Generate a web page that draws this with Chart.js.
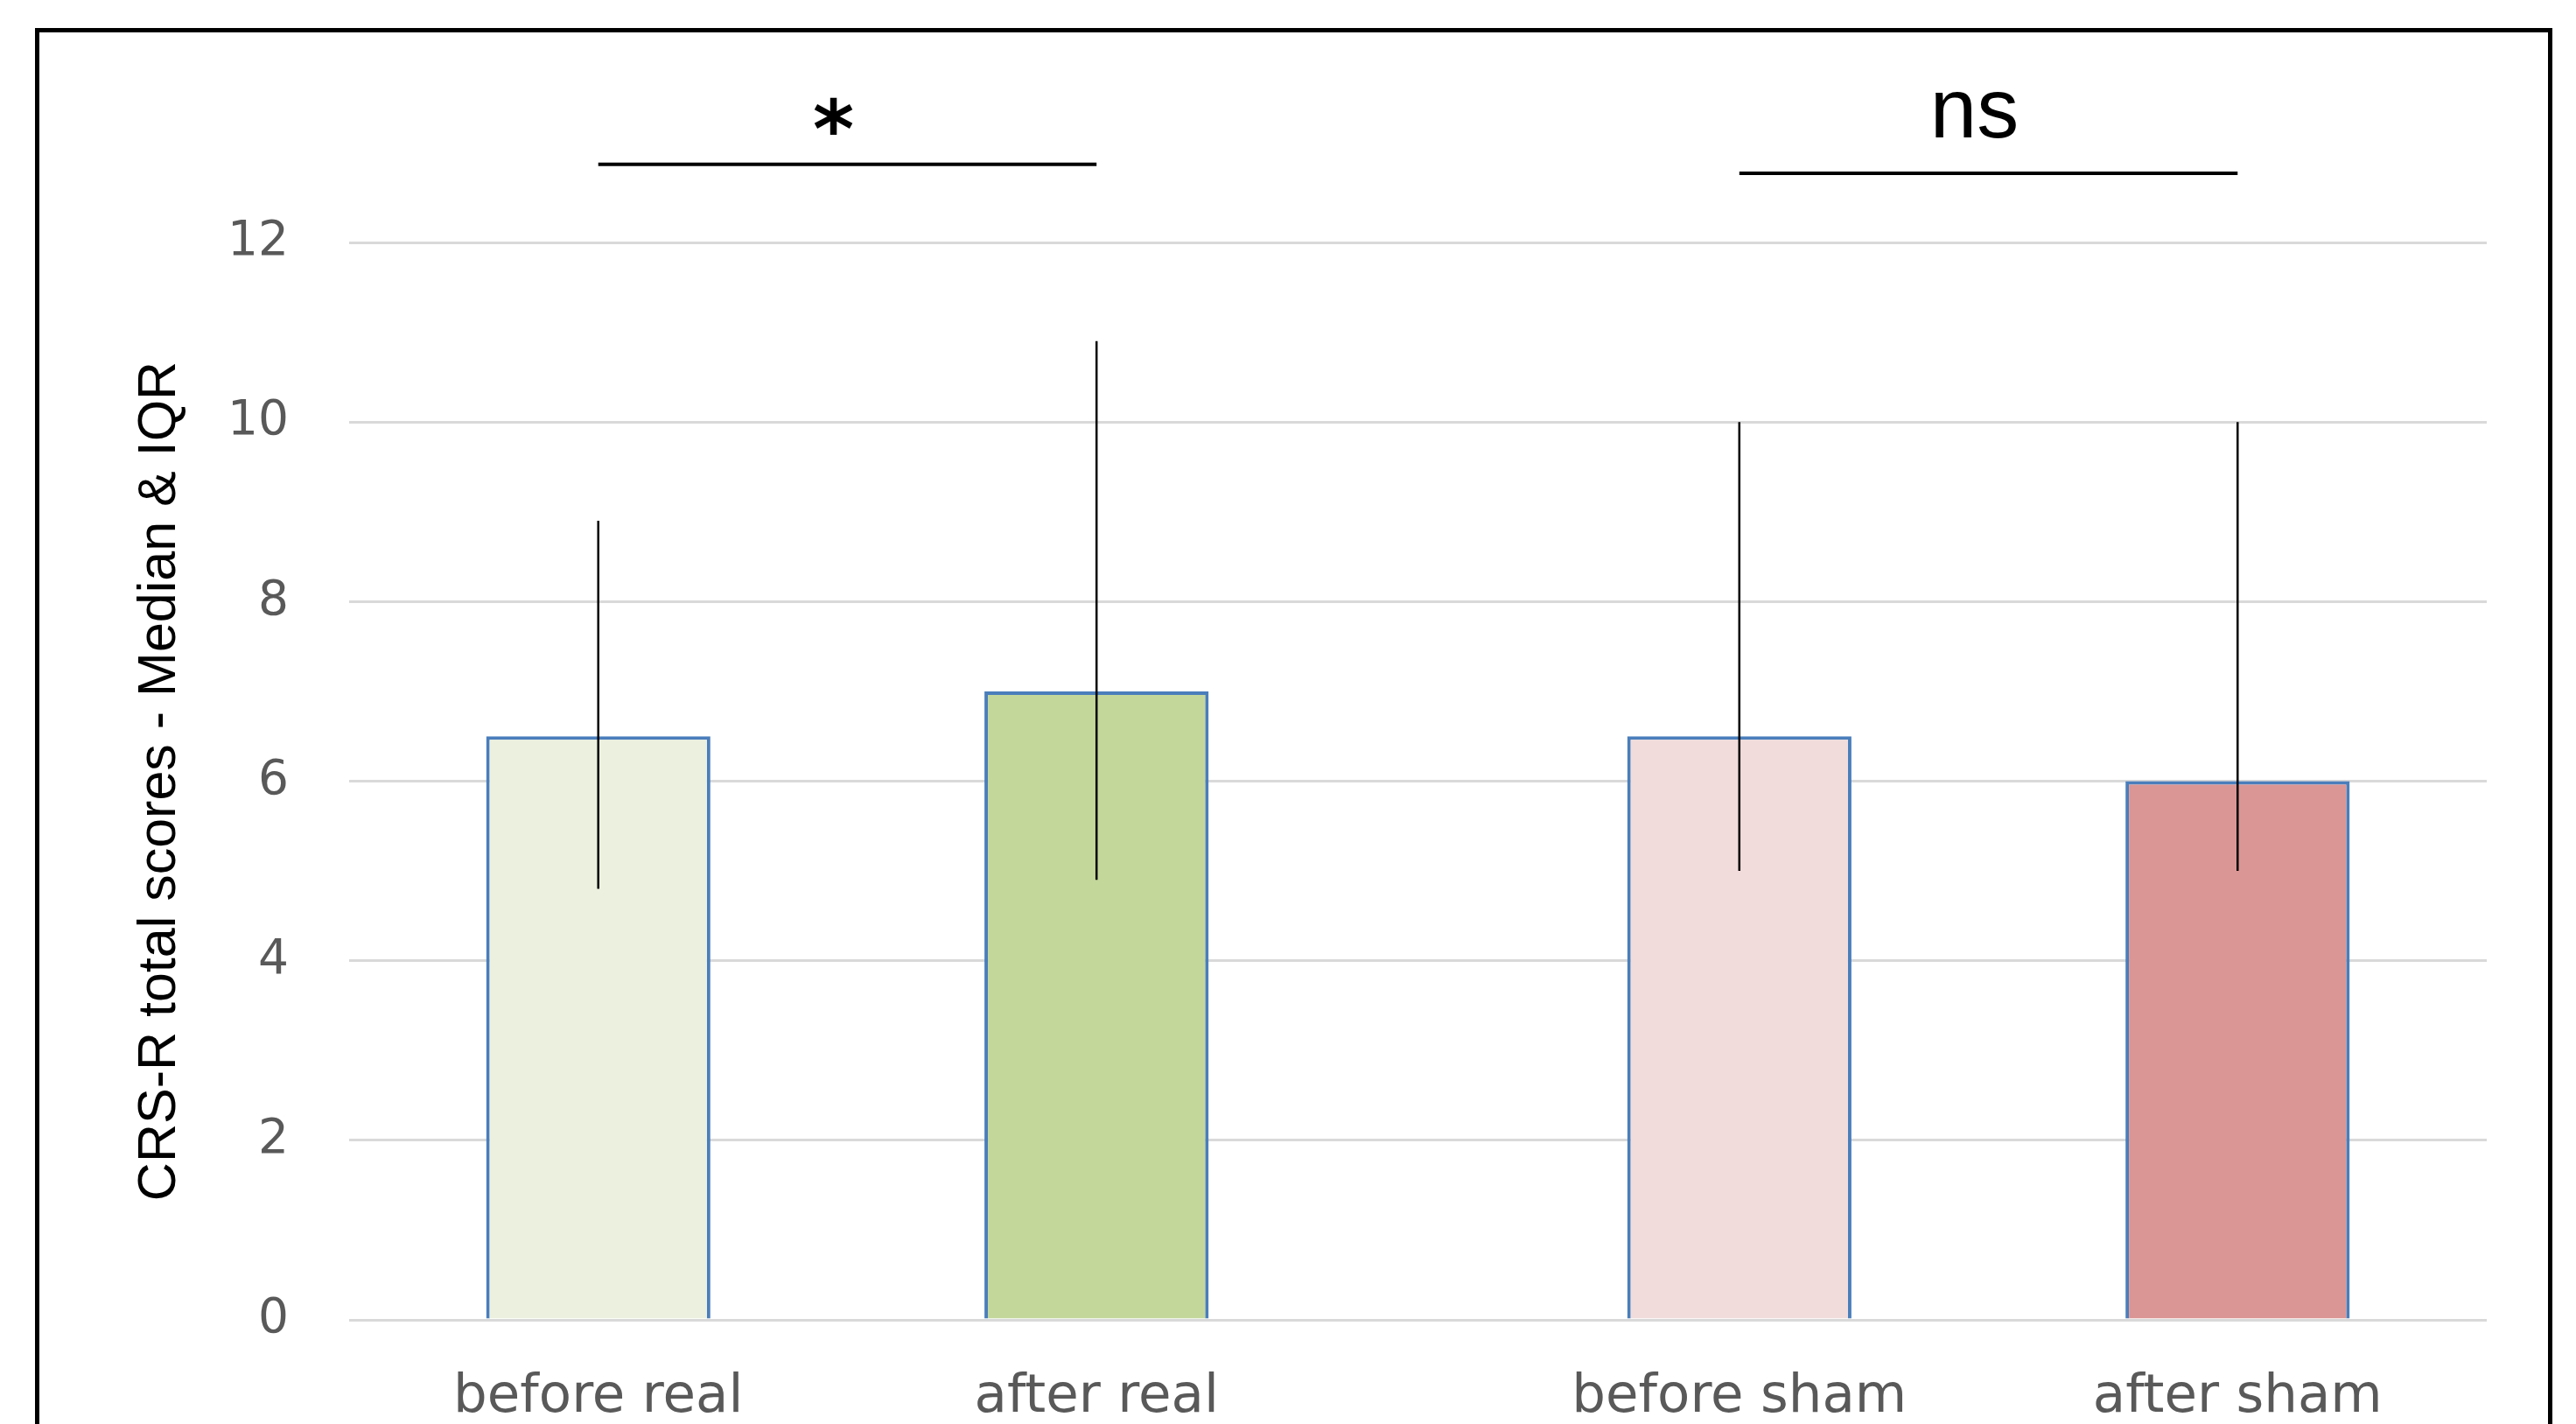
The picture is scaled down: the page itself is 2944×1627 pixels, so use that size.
<!DOCTYPE html>
<html>
<head>
<meta charset="utf-8">
<title>CRS-R total scores - Median & IQR</title>
<script src="https://cdn.jsdelivr.net/npm/chart.js@4.4.1/dist/chart.umd.min.js"></script>
<style>
  html, body { margin: 0; padding: 0; background: #fff; overflow: hidden; }
  #wrap   { position: relative; width: 2944px; height: 1627px; }
  #chart  { position: absolute; left: 0; top: 0; }
  #frame  { position: absolute; left: 40px; top: 32px; width: 2877px; height: 1700px;
            border: 5px solid #000; box-sizing: border-box; pointer-events: none; }
</style>
</head>
<body>
<div id="wrap">
  <canvas id="chart" width="2944" height="1627"></canvas>
  <div id="frame"></div>
</div>
<script>
/* ══════════════════════════════════════════════════════════════
   CRS-R total scores — median (bars) & IQR (whiskers)
══════════════════════════════════════════════════════════════ */

/* ── Datos ── */
var categories = ['before real', 'after real', 'before sham', 'after sham'];
var groups     = [0, 0, 1, 1];            /* 0 = real, 1 = sham */
var medians    = [6.5, 7, 6.5, 6];
var iqrLow     = [4.8, 4.9, 5, 5];
var iqrHigh    = [8.9, 10.9, 10, 10];
var yTicks     = [0, 2, 4, 6, 8, 10, 12];

/* Comparaciones (índices de barra) y su rótulo */
var sigLabels  = ['*', 'ns'];
var sigFrom    = [0, 2];
var sigTo      = [1, 3];
var sigLineAt  = [12.87, 12.77];          /* altura de la raya, unidades del eje y */
var sigTextAt  = [12.96, 13.17];          /* línea base del texto */

/* ── Estilo ── */
var barFills   = ['#EBF1DE', '#C4D79B', '#F2DCDB', '#DA9694'];
var GROUP_GAP  = 0.29;                    /* hueco extra entre grupos real / sham */

function slotOf(i) { return i + groups[i] * GROUP_GAP; }

var slots = categories.map(function(_, i) { return slotOf(i); });

/* ════════════════════════════════════════
   PLUGIN — barras de error (IQR)
════════════════════════════════════════ */
var errorBarsPlugin = {
  id: 'errorBars',
  afterDatasetsDraw: function(chart) {
    var meta = chart.getDatasetMeta(0);
    var y = chart.scales.y;
    var ctx = chart.ctx;
    ctx.save();
    ctx.strokeStyle = '#000';
    ctx.lineWidth = 2.5;
    meta.data.forEach(function(bar, i) {
      ctx.beginPath();
      ctx.moveTo(bar.x, y.getPixelForValue(iqrHigh[i]));
      ctx.lineTo(bar.x, y.getPixelForValue(iqrLow[i]));
      ctx.stroke();
    });
    ctx.restore();
  }
};

/* ════════════════════════════════════════
   PLUGIN — rayas de significación
════════════════════════════════════════ */
var sigFonts = ['bold 90px "DejaVu Sans"', '96px "Liberation Sans"'];

var significancePlugin = {
  id: 'significance',
  afterDraw: function(chart) {
    var meta = chart.getDatasetMeta(0);
    var y = chart.scales.y;
    var ctx = chart.ctx;
    ctx.save();
    ctx.strokeStyle = '#000';
    ctx.fillStyle = '#000';
    ctx.lineWidth = 4;
    ctx.textAlign = 'center';
    ctx.textBaseline = 'alphabetic';
    sigLabels.forEach(function(label, k) {
      var x1 = meta.data[sigFrom[k]].x;
      var x2 = meta.data[sigTo[k]].x;
      var ly = y.getPixelForValue(sigLineAt[k]);
      ctx.beginPath();
      ctx.moveTo(x1, ly);
      ctx.lineTo(x2, ly);
      ctx.stroke();
      ctx.font = sigFonts[k];
      ctx.fillText(label, (x1 + x2) / 2 - 16, y.getPixelForValue(sigTextAt[k]));
    });
    ctx.restore();
  }
};

/* ════════════════════════════════════════
   GRÁFICA
════════════════════════════════════════ */
new Chart(document.getElementById('chart').getContext('2d'), {
  type: 'bar',
  data: {
    datasets: [{
      data: medians.map(function(v, i) { return { x: slots[i], y: v }; }),
      backgroundColor: barFills,
      borderColor: '#4A7EBB',
      borderWidth: 4,
      categoryPercentage: 1,
      barPercentage: 0.45
    }]
  },
  plugins: [errorBarsPlugin, significancePlugin],
  options: {
    responsive: false,
    animation: false,
    devicePixelRatio: 1,
    layout: { padding: { top: 277, right: 102, bottom: 0, left: 0 } },
    plugins: {
      legend: { display: false },
      tooltip: { enabled: false }
    },
    scales: {
      x: {
        type: 'linear',
        offset: false,
        min: -0.5,
        max: slots[slots.length - 1] + 0.5,
        grid: { display: false, drawTicks: false, offset: false },
        border: { display: false },
        afterBuildTicks: function(axis) {
          axis.ticks = slots.map(function(v) { return { value: v }; });
        },
        afterFit: function(axis) { axis.height = 119; },
        ticks: {
          autoSkip: false,
          maxRotation: 0,
          padding: 53,
          color: '#595959',
          font: { family: 'DejaVu Sans', size: 61 },
          callback: function(val, idx) { return categories[idx]; }
        }
      },
      y: {
        min: yTicks[0],
        max: yTicks[yTicks.length - 1],
        grid: { color: '#D9D9D9', lineWidth: 3, drawTicks: false },
        border: { display: false },
        afterFit: function(axis) { axis.width = 399; },
        ticks: {
          stepSize: yTicks[1] - yTicks[0],
          padding: 69,
          color: '#595959',
          font: { family: 'DejaVu Sans', size: 55 }
        },
        title: {
          display: true,
          text: 'CRS-R total scores - Median & IQR',
          color: '#000',
          padding: { top: 147, bottom: 0 },
          font: { family: 'Liberation Sans', size: 61 }
        }
      }
    }
  }
});
</script>
</body>
</html>
